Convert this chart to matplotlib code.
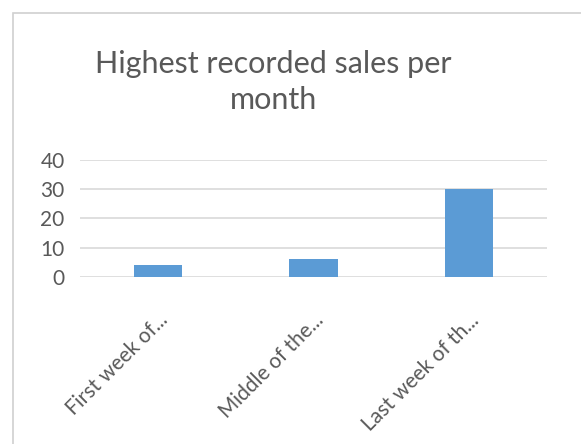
import matplotlib.pyplot as plt
from matplotlib.patches import Rectangle
import numpy as np

categories = ["First week of...", "Middle of the...", "Last week of th..."]
sales = [4, 6, 30]
yticks = [0, 10, 20, 30, 40]

TEXT = "#595959"
GRID = "#d9d9d9"
BAR = "#5b9bd5"

plt.rcParams['font.family'] = ['Lato', 'DejaVu Sans']

fig = plt.figure(figsize=(5.81, 4.44), dpi=100)

# chart container border
fig.patches.append(Rectangle((13 / 581, -0.1), 1.2, 1 - 13 / 444 + 0.1,
                             transform=fig.transFigure, fill=False,
                             edgecolor="#d0d0d0", linewidth=1.2))

ax = fig.add_axes([80 / 581, 1 - 276.7 / 444, 467 / 581, 116.7 / 444])
x = np.arange(len(categories))
ax.bar(x, sales, width=0.31, color=BAR, zorder=3)

ax.set_xlim(-0.5, len(categories) - 0.5)
ax.set_ylim(0, 40)
ax.set_yticks(yticks)
ax.yaxis.grid(True, color=GRID, linewidth=1.2, zorder=0)
ax.set_axisbelow(True)
for s in ax.spines.values():
    s.set_visible(False)
ax.tick_params(axis='y', length=0, pad=11, labelsize=15, labelcolor=TEXT)
ax.tick_params(axis='x', length=0, pad=24)
ax.set_xticks(x)
ax.set_xticklabels(categories, rotation=45, ha='right', rotation_mode='anchor',
                   fontsize=15, color=TEXT)

fig.text(273 / 581, 1 - 82 / 444, "Highest recorded sales per\nmonth",
         ha='center', va='center', fontsize=22, color=TEXT, linespacing=1.35)

fig.savefig("out.png", dpi=100)
